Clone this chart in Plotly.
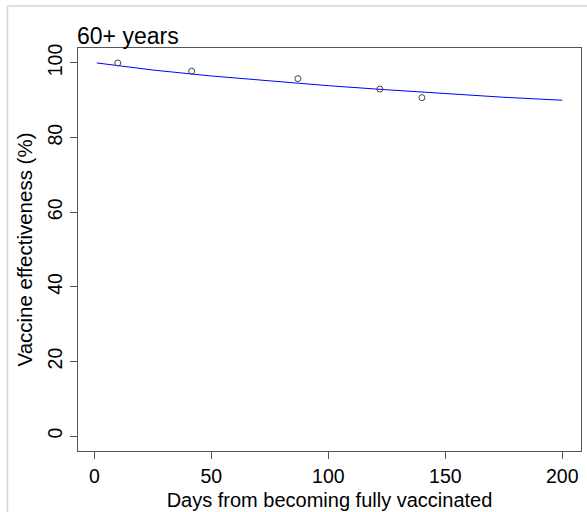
import plotly.graph_objects as go

# Observed vaccine effectiveness points
obs_days = [10, 41.6, 87, 122, 140]
obs_ve = [100.0, 97.8, 95.8, 93.0, 90.7]

# Fitted curve
fit_days = [1, 25, 50, 75, 100, 125, 150, 175, 200]
fit_ve = [100.0, 98.1, 96.5, 95.1, 93.9, 92.8, 91.7, 90.8, 90.0]

x_ticks = [0, 50, 100, 150, 200]
y_ticks = [0, 20, 40, 60, 80, 100]

FONT = "Liberation Sans, Arial, sans-serif"

fig = go.Figure()
fig.add_trace(go.Scatter(x=fit_days, y=fit_ve, mode="lines",
                         line=dict(color="#0000FF", width=1), hoverinfo="skip"))
fig.add_trace(go.Scatter(x=obs_days, y=obs_ve, mode="markers",
                         marker=dict(symbol="circle-open", size=6,
                                     color="#444444", line=dict(width=1, color="#444444"))))

axis_common = dict(showgrid=False, zeroline=False, showline=True, mirror=True,
                   linecolor="#555555", linewidth=1.3, ticks="outside", ticklen=7,
                   tickcolor="#555555", tickwidth=1,
                   tickfont=dict(family=FONT, size=19.5, color="#000000"))

fig.update_layout(
    width=587, height=512,
    margin=dict(l=78, r=6, t=48, b=61, autoexpand=False),
    paper_bgcolor="white", plot_bgcolor="white",
    showlegend=False,
    xaxis=dict(range=[-7, 208], tickvals=x_ticks,
               title=dict(text="Days from becoming fully vaccinated",
                          font=dict(family=FONT, size=20, color="#000000"), standoff=7),
               **axis_common),
    yaxis=dict(range=[-4, 104], tickvals=y_ticks, tickangle=-90,
               title=dict(text="Vaccine effectiveness (%)",
                          font=dict(family=FONT, size=20.5, color="#000000"), standoff=5),
               **axis_common),
    annotations=[dict(text="60+ years", xref="paper", yref="paper", x=0, y=1,
                      xanchor="left", yanchor="bottom", showarrow=False, yshift=-3, xshift=-3,
                      font=dict(family=FONT, size=23, color="#000000"))],
    shapes=[
        dict(type="line", xref="paper", yref="paper", x0=-0.1402, x1=-0.1402, y0=1.104, y1=-0.16,
             line=dict(color="#d4d4d4", width=1.5)),
        dict(type="line", xref="paper", yref="paper", x0=-0.1402, x1=1.012, y0=1.104, y1=1.104,
             line=dict(color="#d4d4d4", width=1.5)),
    ],
)

fig.write_html("out.html", config={"displayModeBar": False},
               post_script="document.body.style.margin='0';document.body.style.overflow='hidden';")
